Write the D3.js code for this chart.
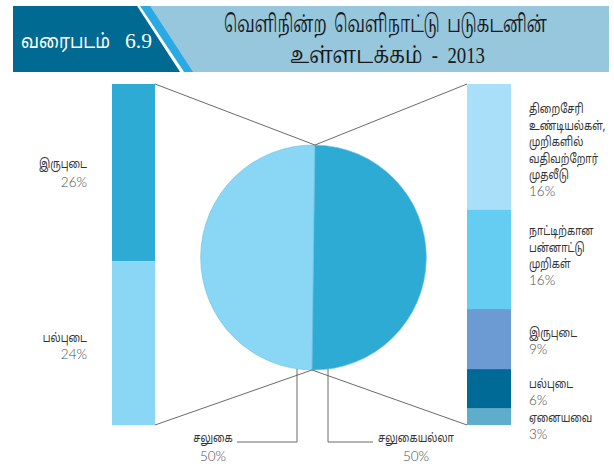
<!DOCTYPE html>
<html>
<head>
<meta charset="utf-8">
<script src="https://cdn.jsdelivr.net/npm/d3@7"></script>
<style>
  html, body { margin: 0; padding: 0; background: #fff; }
  svg { display: block; }
  .tam { font-family: "Noto Sans Tamil", "Noto Sans", "Lato", sans-serif; }
  .pct { font-family: "Lato", "Noto Sans", sans-serif; }
</style>
</head>
<body>
<svg id="chart" width="614" height="467"></svg>
<script>
// ---- data ----
const chartWord = "வரைபடம்";
const chartNum = "6.9";
const titleLines = ["வெளிநின்ற  வெளிநாட்டு  படுகடனின்", "உள்ளடக்கம்  -  2013"];

const pieCategories = ["சலுகை", "சலுகையல்லா"];
const pieValues = [50, 50];

const leftCategories = ["இருபுடை", "பல்புடை"];
const leftValues = [26, 24];

const rightCategories = [
  ["திறைசேரி", "உண்டியல்கள்,", "முறிகளில்", "வதிவற்றோர்", "முதலீடு"],
  ["நாட்டிற்கான", "பன்னாட்டு", "முறிகள்"],
  ["இருபுடை"],
  ["பல்புடை"],
  ["ஏனையவை"]
];
const rightLabels = [16, 16, 9, 6, 3];          // printed percentages
const rightValues = [18.4, 14.6, 8.8, 5.8, 2.4]; // segment sizes as drawn

const pieColors = ["#89d6f5", "#2eabd4"];
const leftColors = ["#2eabd4", "#89d6f5"];
const rightColors = ["#a9dff9", "#66cdf2", "#6b9bd2", "#006a96", "#5eaecb"];

// ---- drawing ----
const svg = d3.select("#chart");

function squeeze(sel, factor) {
  sel.each(function() {
    const w = this.getComputedTextLength();
    d3.select(this).attr("textLength", w * factor).attr("lengthAdjust", "spacingAndGlyphs");
  });
  return sel;
}

// header
const hdr = svg.append("g");
hdr.append("rect").attr("x", 13).attr("y", 6).attr("width", 596).attr("height", 66).attr("fill", "#96c7dd");
hdr.append("path").attr("d", "M140,6 L150,6 L193,72 L184,72 Z").attr("fill", "#29aae2");
hdr.append("path").attr("d", "M137,6 L140,6 L184,72 L180,72 Z").attr("fill", "#ffffff");
hdr.append("path").attr("d", "M13,6 L137,6 L180,72 L13,72 Z").attr("fill", "#006a93");
hdr.append("text").attr("class", "tam").attr("x", 21).attr("y", 48)
  .attr("fill", "#fff").attr("font-size", 20)
  .attr("textLength", 89).attr("lengthAdjust", "spacingAndGlyphs").text(chartWord);
hdr.append("text").attr("x", 125).attr("y", 48)
  .attr("fill", "#fff").attr("font-size", 22).attr("font-family", "'Liberation Serif', serif")
  .attr("textLength", 27).attr("lengthAdjust", "spacingAndGlyphs").text(chartNum);

const titleCenters = [385.5, 387.5];
const titleWidths = [323, 195];
titleLines.forEach((t, i) => {
  hdr.append("text").attr("x", titleCenters[i]).attr("y", 32 + i * 31)
    .attr("text-anchor", "middle").attr("fill", "#1a1a1a")
    .attr("font-family", "'Liberation Serif', 'Noto Serif Tamil', 'Noto Sans Tamil', serif")
    .attr("font-size", 24).style("white-space", "pre")
    .attr("textLength", titleWidths[i]).attr("lengthAdjust", "spacingAndGlyphs")
    .text(t);
});

// scales for stacked bars
const y = d3.scaleLinear().domain([0, 50]).range([84, 425]);
const leftX = d3.scaleBand().domain(["left"]).range([112, 155]);
const rightX = d3.scaleBand().domain(["right"]).range([467, 511]);

function stack(values) {
  let acc = 0;
  return values.map(v => { const s = acc; acc += v; return [s, acc]; });
}
const leftStack = stack(leftValues);
const rightStack = stack(rightValues);

svg.append("g").selectAll("rect").data(leftStack).join("rect")
  .attr("x", leftX("left")).attr("width", leftX.bandwidth())
  .attr("y", d => y(d[0])).attr("height", d => y(d[1]) - y(d[0]))
  .attr("fill", (d, i) => leftColors[i]);

svg.append("g").selectAll("rect").data(rightStack).join("rect")
  .attr("x", rightX("right")).attr("width", rightX.bandwidth())
  .attr("y", d => y(d[0])).attr("height", d => y(d[1]) - y(d[0]))
  .attr("fill", (d, i) => rightColors[i]);

// pie
const cx = 313.5, cy = 257.5, r = 112.5;
const delta = 0.013;
const pie = d3.pie().sort(null).startAngle(Math.PI + delta).endAngle(3 * Math.PI + delta);
const arcs = pie(pieValues);
const arc = d3.arc().innerRadius(0).outerRadius(r);
const pg = svg.append("g").attr("transform", `translate(${cx},${cy})`);
pg.selectAll("path").data(arcs).join("path")
  .attr("d", arc).attr("fill", (d, i) => pieColors[i])
  .attr("stroke", "#6cc3e4").attr("stroke-width", 0.6);

const pt = a => [cx + r * Math.sin(a), cy - r * Math.cos(a)];
const topPt = pt(arcs[0].endAngle);
const botPt = pt(arcs[0].startAngle);

// connector lines
const lineColor = "#6a6a6a";
const conn = svg.append("g").attr("stroke", lineColor).attr("stroke-width", 1).attr("fill", "none");
const lx = leftX("left") + leftX.bandwidth();
const rx = rightX("right");
conn.append("line").attr("x1", lx).attr("y1", y(0)).attr("x2", topPt[0]).attr("y2", topPt[1]);
conn.append("line").attr("x1", rx).attr("y1", y(0)).attr("x2", topPt[0]).attr("y2", topPt[1]);
conn.append("line").attr("x1", lx).attr("y1", y(d3.sum(leftValues))).attr("x2", botPt[0]).attr("y2", botPt[1]);
conn.append("line").attr("x1", rx).attr("y1", y(d3.sum(rightValues))).attr("x2", botPt[0]).attr("y2", botPt[1]);

// pie callouts
const calloutY = 442;
const vxL = cx - 16.5, vxR = cx + 14.5;
const edgeY = vx => cy + Math.sqrt(r * r - (vx - cx) * (vx - cx));
conn.append("polyline").attr("points", `${vxL},${edgeY(vxL)} ${vxL},${calloutY} ${vxL - 60},${calloutY}`);
conn.append("polyline").attr("points", `${vxR},${edgeY(vxR)} ${vxR},${calloutY} ${vxR + 45},${calloutY}`);

const labelColor = "#333";
const pctColor = "#4d4d4d";

function label(x, yy, lines, pct, anchor, lineGap, pctGap) {
  const g = svg.append("g");
  lines.forEach((t, i) => {
    const tx = g.append("text").attr("class", "tam").attr("x", x).attr("y", yy + i * lineGap)
      .attr("text-anchor", anchor).attr("fill", labelColor).attr("font-size", 12.5).text(t);
    squeeze(tx, 0.8);
  });
  g.append("text").attr("class", "pct").attr("x", x).attr("y", yy + (lines.length - 1) * lineGap + pctGap)
    .attr("text-anchor", anchor).attr("fill", pctColor).attr("font-size", 13.5)
    .attr("font-weight", 300).text(pct + "%");
}

// left labels
label(87, 168, [leftCategories[0]], leftValues[0], "end", 16.6, 19);
label(87, 342, [leftCategories[1]], leftValues[1], "end", 16.6, 17);

// right labels
const rightY = [113, 235, 337, 388, 422];
rightCategories.forEach((lines, i) => label(529, rightY[i], lines, rightLabels[i], "start", 16.6, 17));

// pie labels
label(213, 442, [pieCategories[0]], pieValues[0], "middle", 16.6, 19);
label(416, 442, [pieCategories[1]], pieValues[1], "middle", 16.6, 19);
</script>
</body>
</html>
